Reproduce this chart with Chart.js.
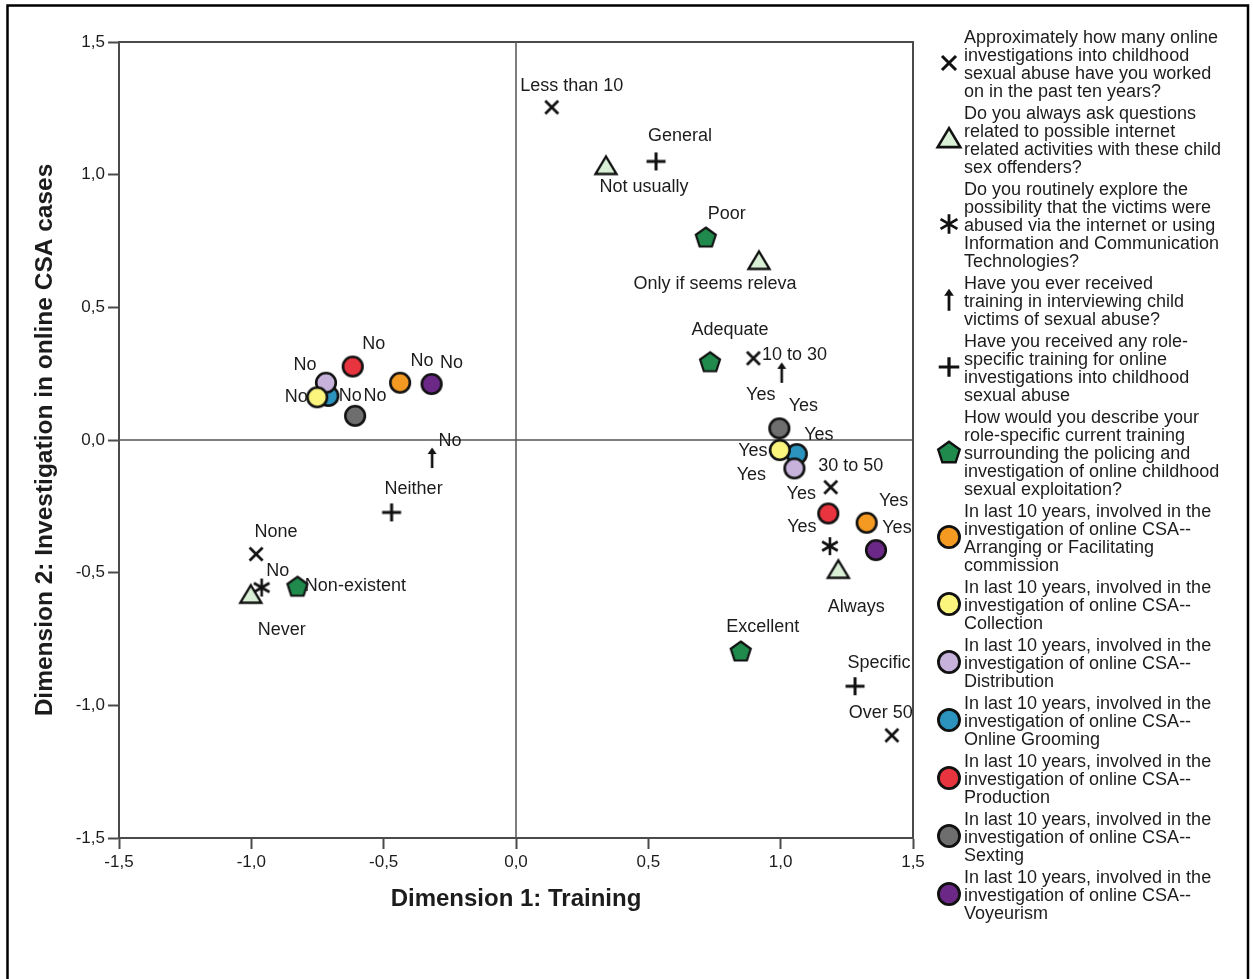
<!DOCTYPE html>
<html>
<head>
<meta charset="utf-8">
<script src="https://cdn.jsdelivr.net/npm/chart.js@4.4.1/dist/chart.umd.min.js"></script>
<style>
  html, body { margin: 0; padding: 0; background: #fff; }
  #wrap { width: 1253px; height: 979px; position: relative; }
  canvas { display: block; }
</style>
</head>
<body>
<div id="wrap"><canvas id="chart" width="1253" height="979"></canvas></div>
<script>
// ---- Axis ticks ----
const axisTicks = [-1.5, -1.0, -0.5, 0.0, 0.5, 1.0, 1.5];

// ---- Category points (Dimension 1, Dimension 2) ----
const countLabels = ['Less than 10', '10 to 30', '30 to 50', 'Over 50', 'None'];
const countX = [0.135, 0.897, 1.189, 1.420, -0.982];
const countY = [1.254, 0.308, -0.178, -1.113, -0.430];

const askLabels = ['Not usually', 'Only if seems releva', 'Always', 'Never'];
const askX = [0.340, 0.918, 1.218, -1.002];
const askY = [1.031, 0.673, -0.491, -0.585];

const exploreLabels = ['Yes', 'No'];
const exploreX = [1.186, -0.961];
const exploreY = [-0.400, -0.556];

const interviewLabels = ['Yes', 'No'];
const interviewX = [1.004, -0.317];
const interviewY = [0.253, -0.068];

const roleLabels = ['General', 'Specific', 'Neither'];
const roleX = [0.529, 1.281, -0.470];
const roleY = [1.050, -0.928, -0.273];

const ratingLabels = ['Poor', 'Adequate', 'Excellent', 'Non-existent'];
const ratingX = [0.717, 0.733, 0.849, -0.826];
const ratingY = [0.765, 0.295, -0.795, -0.551];

const involvedLabels = ['Yes', 'No'];
const arrangingX = [1.325, -0.438];
const arrangingY = [-0.312, 0.216];
const collectionX = [0.997, -0.751];
const collectionY = [-0.038, 0.161];
const distributionX = [1.052, -0.718];
const distributionY = [-0.107, 0.216];
const groomingX = [1.061, -0.709];
const groomingY = [-0.053, 0.166];
const productionX = [1.180, -0.617];
const productionY = [-0.277, 0.277];
const sextingX = [0.995, -0.608];
const sextingY = [0.044, 0.091];
const voyeurismX = [1.360, -0.319];
const voyeurismY = [-0.415, 0.211];

// ---- Legend wording (one entry per variable, already broken into lines) ----
const seriesNames = [
  ['Approximately how many online', 'investigations into childhood', 'sexual abuse have you worked', 'on in the past ten years?'],
  ['Do you always ask questions', 'related to possible internet', 'related activities with these child', 'sex offenders?'],
  ['Do you routinely explore the', 'possibility that the victims were', 'abused via the internet or using', 'Information and Communication', 'Technologies?'],
  ['Have you ever received', 'training in interviewing child', 'victims of sexual abuse?'],
  ['Have you received any role-', 'specific training for online', 'investigations into childhood', 'sexual abuse'],
  ['How would you describe your', 'role-specific current training', 'surrounding the policing and', 'investigation of online childhood', 'sexual exploitation?'],
  ['In last 10 years, involved in the', 'investigation of online CSA--', 'Arranging or Facilitating', 'commission'],
  ['In last 10 years, involved in the', 'investigation of online CSA--', 'Collection'],
  ['In last 10 years, involved in the', 'investigation of online CSA--', 'Distribution'],
  ['In last 10 years, involved in the', 'investigation of online CSA--', 'Online Grooming'],
  ['In last 10 years, involved in the', 'investigation of online CSA--', 'Production'],
  ['In last 10 years, involved in the', 'investigation of online CSA--', 'Sexting'],
  ['In last 10 years, involved in the', 'investigation of online CSA--', 'Voyeurism']
];

// ---- Label placement: pixel shift of each point label from its marker ----
const labelShift = [
  [[20, -21], [41, -3], [20, -21], [-11, -22], [20, -22]],
  [[38, 21], [-44, 23], [18, 37], [31, 35]],
  [[-28, -19], [16, -16]],
  [[-21, 22], [18, -17]],
  [[24, -25], [24, -23], [22, -23]],
  [[21, -23], [20, -32], [22, -24], [58, 0]],
  [[27, -22], [22, -22]],
  [[-27, 1], [-21, 0]],
  [[-43, 7], [-21, -18]],
  [[22, -19], [22, 0]],
  [[-27, -19], [21, -22]],
  [[24, -22], [20, -20]],
  [[21, -22], [20, -21]]
];

const FONT = '"Liberation Sans", Arial, sans-serif';
const INK = '#1c1c1c';

// ---- Marker glyphs ----
function makeMarker(kind, fill, scale) {
  const k = scale || 1;
  const size = 32;
  const c = document.createElement('canvas');
  c.width = size; c.height = size;
  const g = c.getContext('2d');
  g.translate(size / 2, size / 2);
  g.scale(k, k);
  g.strokeStyle = '#111';
  g.fillStyle = fill || '#111';
  g.lineJoin = 'miter';
  if (kind === 'x') {
    g.lineWidth = 2.8;
    g.beginPath();
    g.moveTo(-6.5, -6.5); g.lineTo(6.5, 6.5);
    g.moveTo(6.5, -6.5); g.lineTo(-6.5, 6.5);
    g.stroke();
  } else if (kind === 'triangle') {
    g.lineWidth = 2.4;
    g.beginPath();
    g.moveTo(0, -10); g.lineTo(10.5, 7.5); g.lineTo(-10.5, 7.5); g.closePath();
    g.fill(); g.stroke();
  } else if (kind === 'asterisk') {
    g.lineWidth = 2.6;
    g.beginPath();
    g.moveTo(0, -9); g.lineTo(0, 9);
    for (const a of [Math.PI / 6, -Math.PI / 6]) {
      g.moveTo(-9 * Math.cos(a), -9 * Math.sin(a));
      g.lineTo(9 * Math.cos(a), 9 * Math.sin(a));
    }
    g.stroke();
  } else if (kind === 'arrow') {
    g.lineWidth = 2.6;
    g.beginPath();
    g.moveTo(0, 10); g.lineTo(0, -6);
    g.stroke();
    g.beginPath();
    g.moveTo(-4.5, -4); g.lineTo(0, -10.5); g.lineTo(4.5, -4); g.closePath();
    g.fill();
  } else if (kind === 'plus') {
    g.lineWidth = 3;
    g.beginPath();
    g.moveTo(-9.5, 0); g.lineTo(9.5, 0);
    g.moveTo(0, -9); g.lineTo(0, 9);
    g.stroke();
  } else if (kind === 'pentagon') {
    g.lineWidth = 2.2;
    g.beginPath();
    for (let n = 0; n < 5; n++) {
      const a = -Math.PI / 2 + n * 2 * Math.PI / 5;
      const px = 10.5 * Math.cos(a), py = 10.5 * Math.sin(a) + 1;
      if (n === 0) g.moveTo(px, py); else g.lineTo(px, py);
    }
    g.closePath();
    g.fill(); g.stroke();
  } else if (kind === 'circle') {
    g.lineWidth = 2.6;
    g.beginPath();
    g.arc(0, 0, 9.8, 0, Math.PI * 2);
    g.fill(); g.stroke();
  }
  return c;
}

function pts(xs, ys) { return xs.map((x, i) => ({ x: x, y: ys[i] })); }

const seriesDefs = [
  { labels: countLabels, data: pts(countX, countY), kind: 'x' },
  { labels: askLabels, data: pts(askX, askY), kind: 'triangle', fill: '#d9efd6' },
  { labels: exploreLabels, data: pts(exploreX, exploreY), kind: 'asterisk' },
  { labels: interviewLabels, data: pts(interviewX, interviewY), kind: 'arrow' },
  { labels: roleLabels, data: pts(roleX, roleY), kind: 'plus' },
  { labels: ratingLabels, data: pts(ratingX, ratingY), kind: 'pentagon', fill: '#1f8a4c' },
  { labels: involvedLabels, data: pts(arrangingX, arrangingY), kind: 'circle', fill: '#f49a22' },
  { labels: involvedLabels, data: pts(collectionX, collectionY), kind: 'circle', fill: '#fbf57e' },
  { labels: involvedLabels, data: pts(distributionX, distributionY), kind: 'circle', fill: '#c6b2da' },
  { labels: involvedLabels, data: pts(groomingX, groomingY), kind: 'circle', fill: '#2b93bd' },
  { labels: involvedLabels, data: pts(productionX, productionY), kind: 'circle', fill: '#e8343e' },
  { labels: involvedLabels, data: pts(sextingX, sextingY), kind: 'circle', fill: '#6e6e6e' },
  { labels: involvedLabels, data: pts(voyeurismX, voyeurismY), kind: 'circle', fill: '#6c2887' }
];

const legendMarkers = seriesDefs.map(s => makeMarker(s.kind, s.fill, 1.08));

const datasets = seriesDefs.map((s, i) => ({
  label: seriesNames[i].join(' '),
  data: s.data,
  pointStyle: makeMarker(s.kind, s.fill, 1),
  pointRadius: 10,
  pointHoverRadius: 10,
  showLine: false,
  pointLabels: s.labels
}));

const fmt = v => v.toFixed(1).replace('.', ',');

// Page frame, plot box and the two zero reference lines
const framePlugin = {
  id: 'frame',
  beforeDraw(chart) {
    const ctx = chart.ctx;
    ctx.save();
    ctx.fillStyle = '#fff';
    ctx.fillRect(0, 0, chart.width, chart.height);
    ctx.strokeStyle = '#000';
    ctx.lineWidth = 2.5;
    ctx.strokeRect(7.5, 5.5, 1240.5, 1000);
    ctx.restore();
  },
  beforeDatasetsDraw(chart) {
    const { ctx, chartArea: a, scales } = chart;
    ctx.save();
    ctx.strokeStyle = '#4a4a4a';
    ctx.lineWidth = 2;
    ctx.beginPath();
    ctx.moveTo(a.left, a.top); ctx.lineTo(a.right, a.top); ctx.lineTo(a.right, a.bottom);
    ctx.stroke();
    ctx.strokeStyle = '#555';
    ctx.lineWidth = 1.5;
    const x0 = scales.x.getPixelForValue(0);
    const y0 = scales.y.getPixelForValue(0);
    ctx.beginPath();
    ctx.moveTo(x0, a.top); ctx.lineTo(x0, a.bottom);
    ctx.moveTo(a.left, y0); ctx.lineTo(a.right, y0);
    ctx.stroke();
    ctx.restore();
  }
};

// Category names written next to each marker
const pointLabelPlugin = {
  id: 'pointLabels',
  afterDatasetsDraw(chart) {
    const ctx = chart.ctx;
    ctx.save();
    ctx.font = '18px ' + FONT;
    ctx.fillStyle = INK;
    ctx.textAlign = 'center';
    ctx.textBaseline = 'middle';
    chart.data.datasets.forEach((ds, i) => {
      const meta = chart.getDatasetMeta(i);
      meta.data.forEach((el, j) => {
        const sh = labelShift[i][j];
        ctx.fillText(ds.pointLabels[j], el.x + sh[0], el.y + sh[1]);
      });
    });
    ctx.restore();
  }
};

// Right-hand legend with wrapped variable descriptions
const sideLegendPlugin = {
  id: 'sideLegend',
  afterDraw(chart) {
    const ctx = chart.ctx;
    const lineH = 18, gap = 4, textX = 964, markX = 949;
    let y = 38;
    ctx.save();
    ctx.font = '18px ' + FONT;
    ctx.fillStyle = INK;
    ctx.textAlign = 'left';
    ctx.textBaseline = 'middle';
    chart.data.datasets.forEach((ds, i) => {
      const lines = seriesNames[i];
      const mid = y + (lines.length - 1) * lineH / 2 - 2;
      const m = legendMarkers[i];
      ctx.drawImage(m, markX - m.width / 2, mid - m.height / 2);
      lines.forEach((t, k) => ctx.fillText(t, textX, y + k * lineH));
      y += lines.length * lineH + gap;
    });
    ctx.restore();
  }
};

const axisCommon = {
  type: 'linear',
  min: -1.5,
  max: 1.5,
  afterBuildTicks(scale) { scale.ticks = axisTicks.map(v => ({ value: v })); },
  ticks: {
    callback: v => fmt(v),
    color: INK,
    font: { size: 17, family: FONT },
    padding: 3
  },
  grid: { drawOnChartArea: false, drawTicks: true, tickLength: 11, tickWidth: 2, tickColor: '#4a4a4a' },
  border: { display: true, color: '#4a4a4a', width: 2 }
};

new Chart(document.getElementById('chart'), {
  type: 'scatter',
  data: { datasets: datasets },
  options: {
    responsive: false,
    animation: false,
    events: [],
    layout: { padding: { left: 0, top: 42, right: 340, bottom: 0 } },
    plugins: { legend: { display: false }, tooltip: { enabled: false } },
    scales: {
      x: Object.assign({}, axisCommon, {
        position: 'bottom',
        afterFit(s) { s.height = 141; },
        title: {
          display: true,
          text: 'Dimension 1: Training',
          color: INK,
          font: { size: 24, weight: 'bold', family: FONT },
          padding: { top: 0, bottom: 65 }
        }
      }),
      y: Object.assign({}, axisCommon, {
        position: 'left',
        afterFit(s) { s.width = 119; },
        title: {
          display: true,
          text: 'Dimension 2: Investigation in online CSA cases',
          color: INK,
          font: { size: 24.5, weight: 'bold', family: FONT },
          padding: { top: 31, bottom: 0 }
        }
      })
    }
  },
  plugins: [framePlugin, pointLabelPlugin, sideLegendPlugin]
});
</script>
</body>
</html>
